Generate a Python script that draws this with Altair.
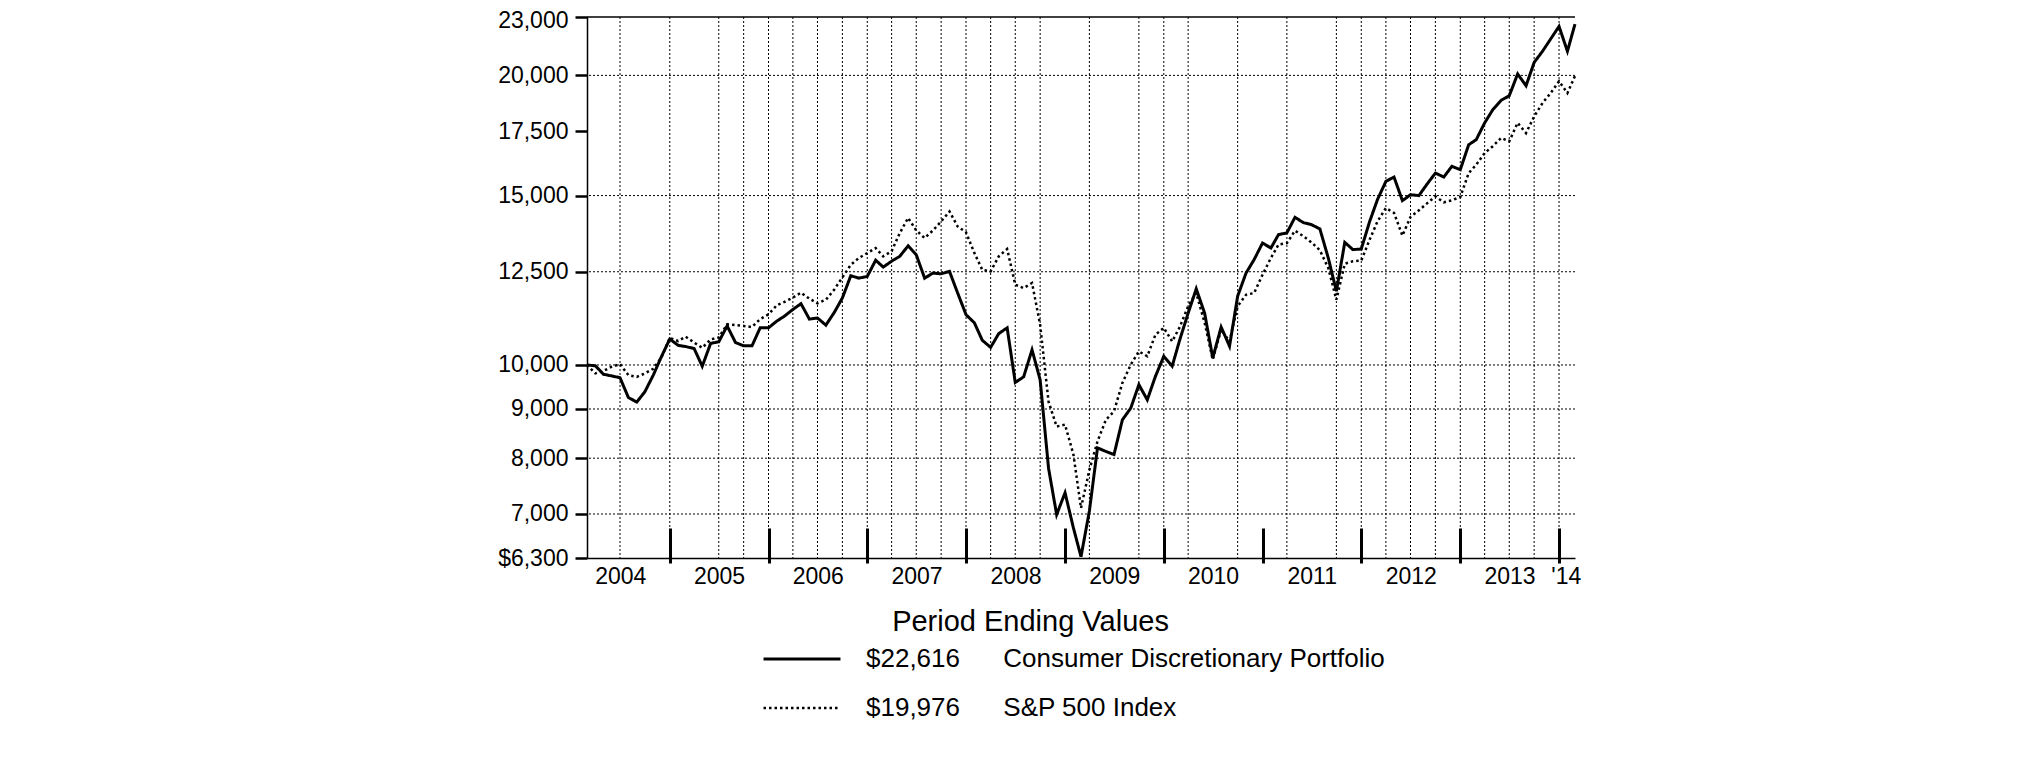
import altair as alt
import pandas as pd

FONT = "Liberation Sans"

# ---- data -------------------------------------------------------------
months = pd.date_range("2004-02-29", periods=121, freq=pd.offsets.MonthEnd())

cd_values = [10000, 9980, 9780, 9740, 9700, 9250, 9150, 9380, 9760, 10200,
             10640, 10480, 10450, 10400, 9970, 10530, 10570, 10980, 10550, 10470,
             10470, 10930, 10930, 11110, 11240, 11420, 11580, 11160, 11190, 11000,
             11340, 11740, 12380, 12310, 12360, 12850, 12640, 12820, 12970, 13300,
             13020, 12310, 12460, 12440, 12510, 11880, 11280, 11060, 10610, 10430,
             10780, 10930, 9590, 9720, 10370, 9650, 7810, 6990, 7365, 6770,
             6320, 7050, 8200, 8130, 8070, 8770, 9020, 9540, 9200, 9730,
             10210, 9970, 10620, 11320, 12000, 11320, 10170, 10950, 10460, 11790,
             12460, 12870, 13390, 13230, 13660, 13720, 14240, 14060, 13990, 13850,
             12920, 11930, 13410, 13180, 13200, 14100, 14860, 15520, 15680, 14820,
             15030, 15000, 15430, 15830, 15680, 16090, 15960, 16940, 17150, 17850,
             18420, 18840, 19050, 20070, 19510, 20630, 21190, 21820, 22490, 21190,
             22616]

sp_values = [10000, 9800, 9860, 9960, 10020, 9760, 9720, 9800, 9910, 10180,
             10670, 10590, 10700, 10550, 10420, 10630, 10680, 11020, 11000, 10980,
             10950, 11160, 11290, 11540, 11630, 11750, 11890, 11720, 11590, 11690,
             11980, 12330, 12710, 12920, 13070, 13230, 12970, 13130, 13710, 14220,
             13800, 13550, 13800, 14100, 14440, 13930, 13740, 13070, 12560, 12510,
             12970, 13200, 12120, 12020, 12170, 11010, 9160, 8630, 8670, 8070,
             7100, 7780, 8330, 8770, 8950, 9580, 10010, 10330, 10210, 10750,
             10930, 10580, 10950, 11510, 11880, 11060, 10130, 10880, 10580, 11510,
             11830, 11880, 12410, 12920, 13340, 13390, 13790, 13610, 13410, 13160,
             12610, 11690, 12740, 12820, 12840, 13500, 14100, 14560, 14390, 13630,
             14250, 14480, 14730, 14970, 14760, 14830, 14950, 15830, 16150, 16610,
             16880, 17220, 17080, 17850, 17420, 18130, 18720, 19170, 19720, 19170,
             19976]

series_names = ["Consumer Discretionary Portfolio", "S&P 500 Index"]
end_values = ["$22,616", "$19,976"]

y_ticks = [6300, 7000, 8000, 9000, 10000, 12500, 15000, 17500, 20000, 23000]
y_grid = [7000, 8000, 9000, 10000, 12500, 15000, 20000]
x_grid = ["2004-06-30", "2004-12-31", "2005-06-30", "2005-09-30", "2005-12-31",
          "2006-03-31", "2006-06-30", "2006-09-30", "2006-12-31",
          "2007-03-31", "2007-06-30", "2007-09-30", "2007-12-31",
          "2008-03-31", "2008-06-30", "2008-09-30",
          "2009-03-31", "2009-09-30", "2009-12-31",
          "2010-03-31", "2010-09-30",
          "2011-03-31", "2011-09-30", "2011-12-31",
          "2012-03-31", "2012-06-30", "2012-09-30", "2012-12-31",
          "2013-03-31", "2013-06-30", "2013-09-30", "2013-12-31"]
year_end_ticks = [(y, 12, 31) for y in range(2004, 2014)]
year_label_dates = [(y, 7, 1) for y in range(2004, 2014)] + [(2014, 1, 25)]

# ---- build tables ---------------------------------------------------------
labels = [f"{v}" + "\u00a0" * 6 + n for v, n in zip(end_values, series_names)]
dates = list(months.strftime("%Y-%m-%d"))
df = pd.DataFrame({
    "date": dates * 2,
    "value": cd_values + sp_values,
    "label": [labels[0]] * len(cd_values) + [labels[1]] * len(sp_values),
})


def dt(t):
    return alt.DateTime(year=t[0], month=t[1], date=t[2], utc=True)


x_scale = alt.Scale(domain=[dt((2004, 2, 29)), dt((2014, 2, 28))], nice=False)
y_scale = alt.Scale(type="log", domain=[6300, 23000], nice=False)

y_label_expr = "datum.value == 6300 ? '$6,300' : format(datum.value, ',')"
y_axis = alt.Axis(values=y_ticks, labelExpr=y_label_expr, tickSize=12,
                  tickWidth=2.5, tickColor="black", domainColor="black",
                  domainWidth=1.5, grid=False, labelFont=FONT,
                  labelFontSize=23, labelColor="black", labelPadding=7,
                  labelOffset=alt.condition("datum.value == 23000",
                                            alt.value(3), alt.value(0)),
                  title=None)

grid_style = dict(color="black", strokeDash=[2, 2], strokeWidth=1)

ygrid = alt.Chart(pd.DataFrame({"value": y_grid})).mark_rule(**grid_style).encode(
    y=alt.Y("value:Q", scale=y_scale, axis=y_axis)
)

xgrid = alt.Chart(pd.DataFrame({"d": x_grid})).mark_rule(**grid_style).encode(
    x=alt.X("d:T", scale=x_scale,
            axis=alt.Axis(orient="bottom", values=[dt(t) for t in year_end_ticks],
                          offset=-30, tickSize=35, tickWidth=3, tickColor="black",
                          labels=False, domain=False, grid=False, title=None))
)

top_border = alt.Chart(pd.DataFrame({"value": [23000]})).mark_rule(
    color="black", strokeWidth=1.5
).encode(y=alt.Y("value:Q", scale=y_scale, axis=y_axis))

x_label_expr = ("utcFormat(datum.value, '%Y') == '2014' ? \"'14\" : "
                "utcFormat(datum.value, '%Y')")

lines = alt.Chart(df).mark_line(color="black").encode(
    x=alt.X("date:T", scale=x_scale,
            axis=alt.Axis(orient="bottom", values=[dt(t) for t in year_label_dates],
                          labelExpr=x_label_expr, ticks=False, tickSize=0,
                          domain=True, domainColor="black", domainWidth=1.5,
                          grid=False, labelFont=FONT, labelFontSize=23,
                          labelColor="black", labelPadding=7,
                          title="Period Ending Values", titleFont=FONT,
                          titleFontSize=29, titleFontWeight="normal",
                          titleColor="black", titleX=443, titleY=72,
                          titleAlign="center", titleBaseline="alphabetic")),
    y=alt.Y("value:Q", scale=y_scale, axis=y_axis),
    strokeDash=alt.StrokeDash(
        "label:N",
        scale=alt.Scale(domain=labels, range=[[1, 0], [2.5, 3]]),
        legend=alt.Legend(title=None, orient="none", legendX=202, legendY=629,
                          direction="vertical", symbolType="M-5,0H5",
                          symbolSize=237, symbolStrokeWidth=3,
                          symbolStrokeColor="black", labelFont=FONT,
                          labelFontSize=26, labelColor="black", labelLimit=1000,
                          labelOffset=51, rowPadding=23, padding=0),
    ),
    strokeWidth=alt.StrokeWidth(
        "label:N", scale=alt.Scale(domain=labels, range=[3, 2.5]), legend=None
    ),
)

chart = alt.layer(ygrid, xgrid, top_border, lines).resolve_axis(
    x="independent"
).properties(
    width=988,
    height=541,
    autosize=alt.AutoSizeParams(type="none"),
    padding={"left": 579, "top": 9, "right": 430, "bottom": 190},
    background="white",
).configure_view(stroke=None)

chart.save("out.html", embed_options={"renderer": "svg", "actions": False})
